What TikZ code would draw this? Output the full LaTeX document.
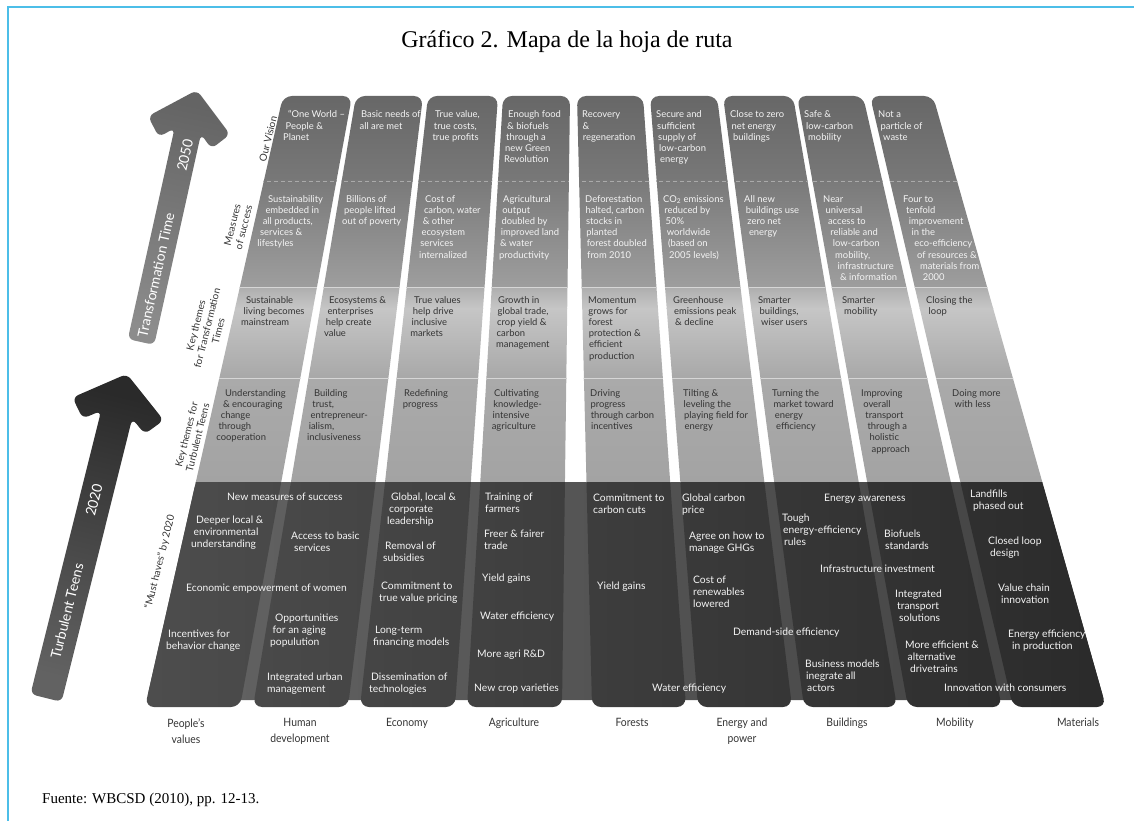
\documentclass[tikz,border=0pt]{standalone}
\usepackage{fontspec}
\setmainfont{Liberation Serif}
\newfontfamily\lato{Lato}
\newfontfamily\latocond{Lato}[FakeStretch=0.9]
\usetikzlibrary{positioning}

\definecolor{frameblue}{RGB}{76,190,232}
\definecolor{vistop}{RGB}{102,102,102}
\definecolor{visbot}{RGB}{120,120,120}
\definecolor{meastop}{RGB}{122,122,122}
\definecolor{measbot}{RGB}{158,158,158}
\definecolor{tttop}{RGB}{174,174,174}
\definecolor{ttmid}{RGB}{198,198,198}
\definecolor{ttbot}{RGB}{168,168,168}
\definecolor{turbtop}{RGB}{170,170,170}
\definecolor{turbbot}{RGB}{163,163,163}
\definecolor{bandleft}{RGB}{78,78,78}
\definecolor{bandright}{RGB}{42,42,42}
\definecolor{gapleft}{RGB}{100,100,100}
\definecolor{gapright}{RGB}{66,66,66}
\definecolor{sepgray}{RGB}{214,214,214}
\definecolor{dashgray}{RGB}{170,170,170}
\definecolor{darktext}{RGB}{52,52,52}
\definecolor{lighttext}{RGB}{244,244,244}
\definecolor{arrowdark}{RGB}{42,42,42}
\definecolor{arrowmid}{RGB}{98,98,98}
\definecolor{arrowhead}{RGB}{100,100,100}
\definecolor{arrowlight}{RGB}{186,186,186}
\definecolor{arrowbase}{RGB}{140,140,140}

\tikzset{
  uptext/.style={inner sep=0pt, anchor=base west, text=lighttext,
    text height=7pt, text depth=2pt,
    font=\lato\fontsize{9.4}{11}\selectfont},
  themetext/.style={uptext, text=darktext},
  bandtext/.style={uptext, font=\lato\fontsize{10.3}{12}\selectfont},
  rowlabel/.style={inner sep=0pt, rotate=76, align=center, text=darktext,
    font=\lato\fontsize{10}{11.5}\selectfont},
  arrowtext/.style={inner sep=0pt, text=white,
    font=\lato\fontsize{14}{16}\selectfont},
  catlabel/.style={inner sep=0pt, anchor=north, align=center, text=darktext,
    font=\latocond\fontsize{11.5}{16}\selectfont},
  sepline/.style={draw=sepgray, line width=0.9pt},
  dashline/.style={draw=dashgray, line width=0.8pt, dash pattern=on 4pt off 3pt},
}

% lines of one text, each line moved along the slant of its column
\newcommand\txtlines[7]{%
  \foreach \ltext [count=\k from 0] in {#7}{%
    \node[#1] (#2-\k) at ({#3+\k*(#5)},{#4+\k*(#6)}) {\ltext};}}
\newcommand\uplines[6]{\txtlines{#1}{#2}{#3}{#4}{#5}{11.2}{#6}}
\newcommand\bandlines[6]{\txtlines{#1}{#2}{#3}{#4}{#5}{12.4}{#6}}

% chevron arrow pointing up: length, half shaft, half wing
\newcommand\timearrow[3]{%
  (-#2,0) -- (-#2,-#1+42) -- (-#3+15,-#1+54) -- (-#3,-#1+36) -- (0,-#1)
  -- (#3,-#1+36) -- (#3-15,-#1+54) -- (#2,-#1+42) -- (#2,0) -- cycle}

% top left / top right / bottom left / bottom right of the nine columns
\def\cols{283/352/145/240,356/423/253/348,428/498/360/455,503/570/467/562,577/643/592/686,650/717/698/792,723/793/804/897,797/863/908/1002,870/933/1013/1106}

\begin{document}
\begin{tikzpicture}[x=1pt,y=-1pt]
\useasboundingbox (0,0) rectangle (1134,821);

% frame
\draw[frameblue, line width=1.6pt] (1134,7) -- (8,7) -- (8,821);

\node[font=\fontsize{24}{27}\selectfont, inner sep=0pt] (title) at (567,42) {Gráfico 2. Mapa de la hoja de ruta};

% time arrows
\begin{scope}[shift={(46,698)}, rotate=-14]
\shade[rounded corners=6, top color=arrowdark, bottom color=arrowmid, shading angle=-14]
  \timearrow{334}{16}{47};
\end{scope}
\begin{scope}[shift={(141,342)}, rotate=-12.5]
\shade[rounded corners=6, top color=arrowhead, middle color=arrowlight, bottom color=arrowbase, shading angle=-12]
  \timearrow{258}{13.5}{42};
\end{scope}
\node[arrowtext, rotate=76] (teens) at (67,611) {Turbulent Teens};
\node[arrowtext, rotate=76] (y2020) at (94,500) {2020};
\node[arrowtext, rotate=77.5] (transf) at (156,275) {Transformation Time};
\node[arrowtext, rotate=77.5] (y2050) at (185,155) {2050};

% dark band behind the gaps
\shade[left color=gapleft, right color=gapright, rounded corners=6]
  (195.8,482) -- (1042,482) -- (1104,700) -- (146.6,700) -- cycle;

% columns
\begin{scope}
\clip[rounded corners=9] \foreach \tL/\tR/\bL/\bR in \cols {(\tL,96) -- (\tR,96) -- (\bR,707) -- (\bL,707) -- cycle};
\shade[top color=vistop, bottom color=visbot] (120,90) rectangle (1120,181.5);
\shade[top color=meastop, bottom color=measbot] (120,181) rectangle (1120,287.5);
\shade[top color=tttop, bottom color=ttmid] (120,287) rectangle (1120,308.5);
\shade[top color=ttmid, bottom color=ttbot] (120,308) rectangle (1120,378.5);
\shade[top color=turbtop, bottom color=turbbot] (120,378) rectangle (1120,482.5);
\shade[left color=bandleft, right color=bandright] (120,482) rectangle (1120,712);
\draw[dashline] (120,181) -- (1120,181);
\draw[sepline] (120,287) -- (1120,287);
\draw[sepline] (120,378) -- (1120,378);
\end{scope}

% our vision
\uplines{uptext}{vis1}{288}{118}{-2.5}{“One World –,People \&,Planet}
\uplines{uptext}{vis2}{361}{118}{-1.5}{Basic needs of,all are met}
\uplines{uptext}{vis3}{435}{118}{-1.3}{{True value,},{true costs,},true profits}
\uplines{uptext}{vis4}{508}{118}{-1}{Enough food,\& biofuels,through a,new Green,Revolution}
\uplines{uptext}{vis5}{582}{118}{0.3}{Recovery,\&,regeneration}
\uplines{uptext}{vis6}{656}{118}{1}{Secure and,sufficient,supply of,low-carbon,energy}
\uplines{uptext}{vis7}{730}{118}{1.5}{Close to zero,net energy,buildings}
\uplines{uptext}{vis8}{804}{118}{2}{Safe \&,low-carbon,mobility}
\uplines{uptext}{vis9}{878}{118}{2.5}{Not a,particle of,waste}

% measures of success
\uplines{uptext}{meas1}{268}{202}{-2.7}{Sustainability,embedded in,{all products,},services \&,lifestyles}
\uplines{uptext}{meas2}{346}{202}{-2}{Billions of,people lifted,out of poverty}
\uplines{uptext}{meas3}{425}{202}{-1.2}{Cost of,{carbon, water},\& other,ecosystem,services,internalized}
\uplines{uptext}{meas4}{503}{202}{-0.8}{Agricultural,output,doubled by,improved land,\& water,productivity}
\uplines{uptext}{meas5}{585}{202}{0.4}{Deforestation,{halted, carbon},stocks in,planted,forest doubled,from 2010}
\uplines{uptext}{meas6}{663}{202}{1.2}{CO\textsubscript{2} emissions,reduced by,50\%,worldwide,{(based on},{2005 levels)}}
\uplines{uptext}{meas7}{744}{202}{1.6}{All new,buildings use,zero net,energy}
\uplines{uptext}{meas8}{823}{202}{2.4}{Near,universal,access to,reliable and,low-carbon,{mobility,},infrastructure,\& information}
\uplines{uptext}{meas9}{903}{202}{2.8}{Four to,tenfold,improvement,in the,eco-efficiency,of resources \&,materials from,2000}

% key themes for transformation times
\uplines{themetext}{ktt1}{246}{303}{-2.5}{Sustainable,living becomes,mainstream}
\uplines{themetext}{ktt2}{329}{303}{-1.7}{Ecosystems \&,enterprises,help create,value}
\uplines{themetext}{ktt3}{414}{303}{-1.3}{True values,help drive,inclusive,markets}
\uplines{themetext}{ktt4}{498}{303}{-0.5}{Growth in,{global trade,},crop yield \&,carbon,management}
\uplines{themetext}{ktt5}{588}{303}{0.2}{Momentum,grows for,forest,protection \&,efficient,production}
\uplines{themetext}{ktt6}{673}{303}{1}{Greenhouse,emissions peak,\& decline}
\uplines{themetext}{ktt7}{758}{303}{1.5}{Smarter,{buildings,},wiser users}
\uplines{themetext}{ktt8}{842}{303}{2}{Smarter,mobility}
\uplines{themetext}{ktt9}{926}{303}{2.5}{Closing the,loop}

% key themes for turbulent teens
\uplines{themetext}{ktb1}{225}{396}{-2.2}{Understanding,\& encouraging,change,through,cooperation}
\uplines{themetext}{ktb2}{314}{396}{-1.8}{Building,{trust,},entrepreneur-,{ialism,},inclusiveness}
\uplines{themetext}{ktb3}{404}{396}{-1.3}{Redefining,progress}
\uplines{themetext}{ktb4}{494}{396}{-0.8}{Cultivating,knowledge-,intensive,agriculture}
\uplines{themetext}{ktb5}{590}{396}{0.3}{Driving,progress,through carbon,incentives}
\uplines{themetext}{ktb6}{683}{396}{0.5}{Tilting \&,leveling the,playing field for,energy}
\uplines{themetext}{ktb7}{772}{396}{1.3}{Turning the,market toward,energy,efficiency}
\uplines{themetext}{ktb8}{861}{396}{2.1}{Improving,overall,transport,through a,holistic,approach}
\uplines{themetext}{ktb9}{952}{396}{2.5}{Doing more,with less}

% must haves by 2020
\bandlines{bandtext}{newmeas}{227}{500}{0}{New measures of success}
\bandlines{bandtext}{deeper}{196}{523}{-2.5}{Deeper local \&,environmental,understanding}
\bandlines{bandtext}{access}{291}{539}{3}{Access to basic,services}
\bandlines{bandtext}{women}{186}{591}{0}{Economic empowerment of women}
\bandlines{bandtext}{aging}{275}{621}{-2.5}{Opportunities,for an aging,populution}
\bandlines{bandtext}{incent}{168}{637}{-2}{Incentives for,behavior change}
\bandlines{bandtext}{urban}{267}{680}{0}{Integrated urban,management}
\bandlines{bandtext}{leader}{391}{500}{-2}{{Global, local \&},corporate,leadership}
\bandlines{bandtext}{subsid}{385}{549}{-2}{Removal of,subsidies}
\bandlines{bandtext}{pricing}{381}{589}{-2}{Commitment to,true value pricing}
\bandlines{bandtext}{finance}{375}{633}{-2}{Long-term,financing models}
\bandlines{bandtext}{dissem}{371}{680}{-2}{Dissemination of,technologies}
\bandlines{bandtext}{farmers}{485}{500}{0}{Training of,farmers}
\bandlines{bandtext}{trade}{484}{537}{0}{Freer \& fairer,trade}
\bandlines{bandtext}{yieldA}{482}{581}{0}{Yield gains}
\bandlines{bandtext}{waterA}{480}{619}{0}{Water efficiency}
\bandlines{bandtext}{agrird}{477}{657}{0}{More agri R\&D}
\bandlines{bandtext}{crops}{474}{691}{0}{New crop varieties}
\bandlines{bandtext}{cuts}{593}{501}{0}{Commitment to,carbon cuts}
\bandlines{bandtext}{yieldB}{597}{589}{0}{Yield gains}
\bandlines{bandtext}{waterB}{652}{691}{0}{Water efficiency}
\bandlines{bandtext}{cprice}{682}{501}{0}{Global carbon,price}
\bandlines{bandtext}{ghgs}{689}{539}{0}{Agree on how to,manage GHGs}
\bandlines{bandtext}{renew}{693}{583}{0}{Cost of,renewables,lowered}
\bandlines{bandtext}{demand}{733}{635}{0}{Demand-side efficiency}
\bandlines{bandtext}{aware}{824}{501}{0}{Energy awareness}
\bandlines{bandtext}{tough}{782}{521}{1}{Tough,energy-efficiency,rules}
\bandlines{bandtext}{biofuel}{884}{537}{1}{Biofuels,standards}
\bandlines{bandtext}{infra}{820}{572}{0}{Infrastructure investment}
\bandlines{bandtext}{transp}{895}{597}{2}{Integrated,transport,solutions}
\bandlines{bandtext}{drive}{905}{648}{2.5}{More efficient \&,alternative,drivetrains}
\bandlines{bandtext}{business}{805}{667}{1}{Business models,inegrate all,actors}
\bandlines{bandtext}{landfill}{970}{497}{3}{Landfills,phased out}
\bandlines{bandtext}{loop}{988}{544}{2}{Closed loop,design}
\bandlines{bandtext}{chain}{998}{591}{3}{Value chain,innovation}
\bandlines{bandtext}{product}{1008}{637}{4}{Energy efficiency,in production}
\bandlines{bandtext}{consum}{944}{691}{0}{Innovation with consumers}

% row labels
\node[rowlabel] (lvision) at (268,139) {Our Vision};
\node[rowlabel] (lmeasure) at (238,226) {Measures\\of success};
\node[rowlabel] (lktt) at (207,328) {Key themes\\for Transformation\\Times};
\node[rowlabel] (lktb) at (192,436) {Key themes for\\Turbulent Teens};
\node[rowlabel] (lmust) at (160,562) {“Must haves” by 2020};

% sectors
\node[catlabel] (people) at (186,718) {People’s\\values};
\node[catlabel] (human) at (300,718) {Human\\development};
\node[catlabel] (economy) at (407,718) {Economy};
\node[catlabel] (agri) at (514,718) {Agriculture};
\node[catlabel] (forest) at (632,718) {Forests};
\node[catlabel] (energy) at (742,718) {Energy and\\power};
\node[catlabel] (build) at (847,718) {Buildings};
\node[catlabel] (mobil) at (955,718) {Mobility};
\node[catlabel] (mater) at (1078,718) {Materials};

\node[font=\fontsize{15}{18}\selectfont, inner sep=0pt, anchor=base west] (source) at (42,803) {Fuente: WBCSD (2010), pp. 12-13.};
\end{tikzpicture}
\end{document}
